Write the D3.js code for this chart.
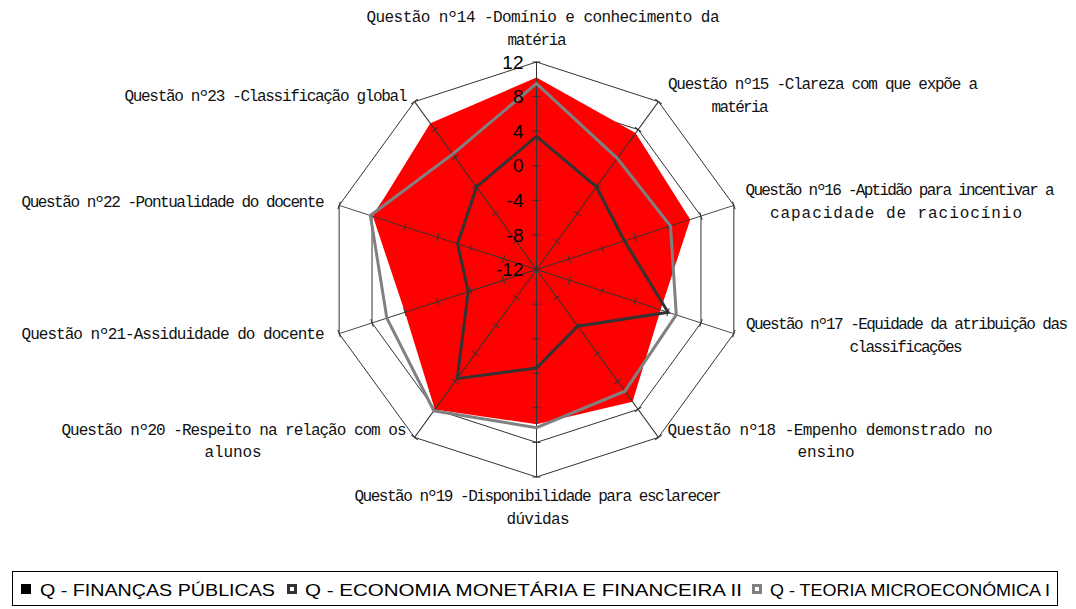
<!DOCTYPE html>
<html>
<head>
<meta charset="utf-8">
<script src="https://cdn.jsdelivr.net/npm/d3@7"></script>
<style>
  body { margin: 0; background: #fff; }
  svg { display: block; }
  .cat { font-family: "Liberation Mono", "Courier New", monospace; font-size: 16px; fill: #111; }
  .tick { font-family: "Liberation Sans", Arial, sans-serif; font-size: 19px; fill: #000; }
  .leg { font-family: "Liberation Sans Narrow", "Liberation Sans", Arial, sans-serif; font-size: 17px; fill: #000; }
</style>
</head>
<body>
<div id="chart"></div>
<script>
// categories (line breaks as in the original chart)
const categories = [
  'Questão nº14 -Domínio e conhecimento da\nmatéria',
  'Questão nº15 -Clareza com que expõe a\nmatéria',
  'Questão nº16 -Aptidão para incentivar a\ncapacidade de raciocínio',
  'Questão nº17 -Equidade da atribuição das\nclassificações',
  'Questão nº18 -Empenho demonstrado no\nensino',
  'Questão nº19 -Disponibilidade para esclarecer\ndúvidas',
  'Questão nº20 -Respeito na relação com os\nalunos',
  'Questão nº21-Assiduidade do docente',
  'Questão nº22 -Pontualidade do docente',
  'Questão nº23 -Classificação global'
]

const seriesNames = ['Q - FINANÇAS PÚBLICAS', 'Q - ECONOMIA MONETÁRIA E FINANCEIRA II', 'Q - TEORIA MICROECONÓMICA I']

const financas = [10.2, 7.5, 6.7, 3.1, 6.9, 5.9, 8.0, 4.0, 7.9, 8.9]
const economia = [3.4, -0.2, -1.3, 4.0, -3.9, -0.6, 3.6, -3.7, -2.4, -0.2]
const teoria = [9.5, 3.9, 4.3, 5.0, 5.4, 6.3, 8.2, 6.2, 8.2, 4.5]

const tickValues = [-12, -8, -4, 0, 4, 8, 12]
const gridValues = [8, 12]

// where each wrapped label line sits: centre x, middle y, width
const labelPos = [
  [[543, 17, 353], [537, 40, 59]],
  [[823, 84, 310], [740, 107, 57]],
  [[900, 190, 309], [896, 213, 252]],
  [[907, 324, 322], [906, 347, 113]],
  [[830, 430, 325], [826, 452, 57]],
  [[538, 496, 367], [538, 519, 63]],
  [[234, 430, 345], [233, 452, 57]],
  [[173, 334, 303]],
  [[173, 202, 303]],
  [[266, 96, 283]]
]

const w = 1076, h = 609
const cx = 536.5, cy = 269.5, R = 207.5
const n = categories.length

const svg = d3.select('#chart').append('svg')
              .attr('width', w)
              .attr('height', h)

const r = d3.scaleLinear().domain([-12, 12]).range([0, R])
const ang = d3.scaleLinear().domain([0, n]).range([0, 2 * Math.PI])

const g = svg.append('g').attr('transform', 'translate(' + cx + ',' + cy + ')')

const radial = d3.lineRadial()
                 .angle((d, i) => ang(i))
                 .radius(d => r(d))
                 .curve(d3.curveLinearClosed)

// rings
g.selectAll('.ring')
 .data(gridValues)
 .enter()
 .append('path')
 .attr('class', 'ring')
 .attr('d', v => radial(d3.range(n).map(() => v)))
 .attr('fill', 'none')
 .attr('stroke', '#333')
 .attr('stroke-width', 1)

// filled series
g.append('path')
 .attr('d', radial(financas))
 .attr('fill', '#ff0000')

// spokes + tick marks
const spokes = g.selectAll('.spoke')
                .data(d3.range(n))
                .enter()
                .append('g')
                .attr('class', 'spoke')
                .attr('transform', i => 'rotate(' + (ang(i) * 180 / Math.PI) + ')')

spokes.append('line')
      .attr('x1', 0).attr('y1', 0)
      .attr('x2', 0).attr('y2', -r(12))
      .attr('stroke', '#333')
      .attr('stroke-width', 1)

spokes.selectAll('.tk')
      .data(tickValues.slice(1))
      .enter()
      .append('line')
      .attr('class', 'tk')
      .attr('x1', -4).attr('x2', 4)
      .attr('y1', v => -r(v)).attr('y2', v => -r(v))
      .attr('stroke', '#333')
      .attr('stroke-width', 1)

// line series
g.append('path')
 .attr('d', radial(economia))
 .attr('fill', 'none')
 .attr('stroke', '#333333')
 .attr('stroke-width', 3)
 .attr('stroke-linejoin', 'miter')

g.append('path')
 .attr('d', radial(teoria))
 .attr('fill', 'none')
 .attr('stroke', '#808080')
 .attr('stroke-width', 3)
 .attr('stroke-linejoin', 'miter')

// value labels along the top spoke
g.selectAll('.tick')
 .data(tickValues)
 .enter()
 .append('text')
 .attr('class', 'tick')
 .attr('x', -13)
 .attr('y', v => -r(v))
 .attr('dy', '0.35em')
 .attr('text-anchor', 'end')
 .text(v => v)

// category labels
categories.forEach((c, i) => {
  c.split('\n').forEach((line, j) => {
    const p = labelPos[i][j]
    svg.append('text')
       .attr('class', 'cat')
       .attr('x', p[0])
       .attr('y', p[1])
       .attr('dy', '0.32em')
       .attr('text-anchor', 'middle')
       .attr('textLength', p[2])
       .attr('lengthAdjust', 'spacing')
       .text(line)
  })
})

// legend
const leg = svg.append('g')
leg.append('rect')
   .attr('x', 12.5).attr('y', 571.5)
   .attr('width', 1045).attr('height', 34)
   .attr('fill', 'none')
   .attr('stroke', '#000')
   .attr('stroke-width', 1)

const legItems = [
  { mx: 21, tx: 40, tw: 235, fill: '#000', stroke: 'none' },
  { mx: 287, tx: 305, tw: 437, fill: '#fff', stroke: '#333' },
  { mx: 752, tx: 770, tw: 280, fill: '#fff', stroke: '#808080' }
]

legItems.forEach((d, i) => {
  leg.append('rect')
     .attr('x', d.stroke === 'none' ? d.mx : d.mx + 1.5)
     .attr('y', d.stroke === 'none' ? 584 : 585.5)
     .attr('width', d.stroke === 'none' ? 10 : 7)
     .attr('height', d.stroke === 'none' ? 10 : 7)
     .attr('fill', d.fill)
     .attr('stroke', d.stroke)
     .attr('stroke-width', 3)
  leg.append('text')
     .attr('class', 'leg')
     .attr('x', d.tx)
     .attr('y', 595.5)
     .attr('textLength', d.tw)
     .attr('lengthAdjust', 'spacingAndGlyphs')
     .text(seriesNames[i])
})
</script>
</body>
</html>
